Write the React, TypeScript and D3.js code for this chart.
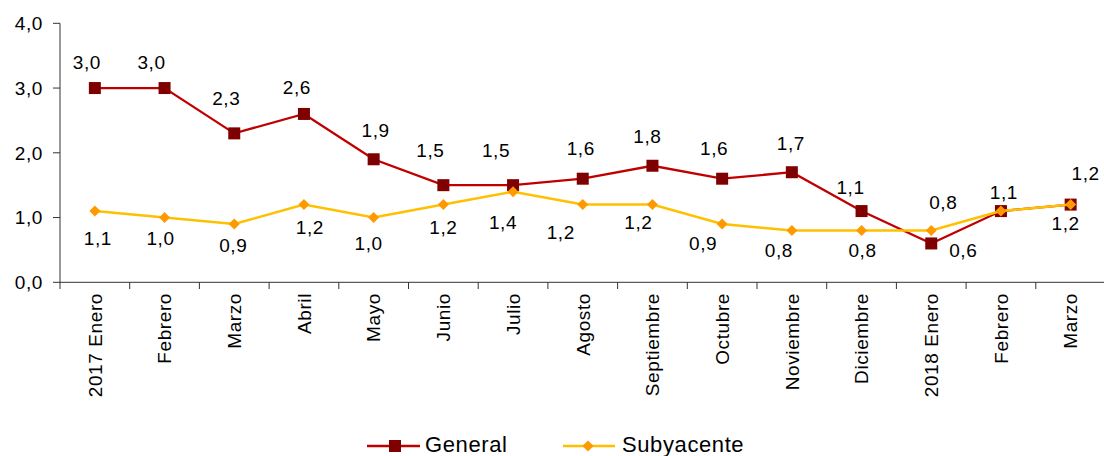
import React from "react";
import * as d3 from "d3";

// Months shown on the category axis
const months = [
  "2017 Enero", "Febrero", "Marzo", "Abril", "Mayo", "Junio", "Julio",
  "Agosto", "Septiembre", "Octubre", "Noviembre", "Diciembre",
  "2018 Enero", "Febrero", "Marzo",
];

// Year-on-year rates (%)
const general = [3.0, 3.0, 2.3, 2.6, 1.9, 1.5, 1.5, 1.6, 1.8, 1.6, 1.7, 1.1, 0.6, 1.1, 1.2];
const subyacente = [1.1, 1.0, 0.9, 1.2, 1.0, 1.2, 1.4, 1.2, 1.2, 0.9, 0.8, 0.8, 0.8, 1.1, 1.2];

const yTicks = [0, 1, 2, 3, 4];

// Label nudges relative to each point (null = label not drawn)
const generalLabelOffset: ([number, number] | null)[] = [
  [-8, -26], [-13, -26], [-8, -35], [-7, -27], [2, -29], [-13, -35], [-17, -35],
  [-2, -31], [-5, -30], [-8, -31], [-1, -29], [-11, -24], [32, 7], [3, -19], [15, -31],
];
const subLabelOffset: ([number, number] | null)[] = [
  [3, 27], [-4, 21], [-1, 21], [6, 23], [-5, 26], [0, 23], [-10, 31],
  [-22, 28], [-14, 18], [-19, 19], [-13, 20], [1, 20], [12, -28], null, [-5, 19],
];

const W = 1104;
const H = 456;
const FONT = "'Liberation Sans', Arial, Helvetica, sans-serif";
const RED_LINE = "#C00000";
const RED_MARK = "#7F0000";
const GOLD_LINE = "#FFC000";
const GOLD_MARK = "#FF9900";
const AXIS = "#333333";

const fmt = (v: number) => v.toFixed(1).replace(".", ",");

export default function App() {
  const x = d3
    .scaleBand<number>()
    .domain(months.map((_, i) => i))
    .range([60, 60 + 15 * 69.7])
    .paddingInner(0)
    .paddingOuter(0);
  const cx = (i: number) => (x(i) as number) + x.bandwidth() / 2;
  const y = d3.scaleLinear().domain([0, 4]).range([282.3, 23.3]);

  const line = d3
    .line<number>()
    .x((_, i) => cx(i))
    .y((d) => y(d));

  const diamond = (px: number, py: number, r: number) =>
    `M${px},${py - r}L${px + r},${py}L${px},${py + r}L${px - r},${py}Z`;

  const labelStyle = { fontFamily: FONT, fontSize: 19, letterSpacing: 0.6, fill: "#000" };
  const legendStyle = { fontFamily: FONT, fontSize: 22, letterSpacing: 0.6, fill: "#000" };

  return (
    <svg
      width={W}
      height={H}
      style={{ position: "absolute", left: 0, top: 0, background: "#fff" }}
    >
      {/* Y axis */}
      <line x1={60} x2={60} y1={y(4)} y2={289} stroke={AXIS} strokeWidth={1} />
      {yTicks.map((t) => (
        <g key={t}>
          <line x1={53} x2={60} y1={y(t)} y2={y(t)} stroke={AXIS} strokeWidth={1} />
          <text x={43} y={y(t)} dy="0.36em" textAnchor="end" style={labelStyle}>
            {fmt(t)}
          </text>
        </g>
      ))}

      {/* X axis */}
      <line x1={60} x2={W} y1={y(0)} y2={y(0)} stroke={AXIS} strokeWidth={1} />
      {months.map((_, i) => (
        <line
          key={"t" + i}
          x1={(x(i) as number) + x.bandwidth()}
          x2={(x(i) as number) + x.bandwidth()}
          y1={y(0)}
          y2={289}
          stroke={AXIS}
          strokeWidth={1}
        />
      ))}
      {months.map((m, i) => (
        <text
          key={"m" + i}
          transform={`translate(${cx(i)},293) rotate(-90)`}
          dy="0.36em"
          textAnchor="end"
          style={labelStyle}
        >
          {m}
        </text>
      ))}

      {/* General */}
      <path d={line(general) || ""} fill="none" stroke={RED_LINE} strokeWidth={2.3} />
      {general.map((v, i) => (
        <rect
          key={"g" + i}
          x={cx(i) - 6}
          y={y(v) - 6}
          width={12}
          height={12}
          fill={RED_MARK}
        />
      ))}

      {/* Subyacente */}
      <path d={line(subyacente) || ""} fill="none" stroke={GOLD_LINE} strokeWidth={2.5} />
      {subyacente.map((v, i) => (
        <path key={"s" + i} d={diamond(cx(i), y(v), 5.5)} fill={GOLD_MARK} />
      ))}

      {/* Value labels */}
      {general.map((v, i) => {
        const o = generalLabelOffset[i];
        if (!o) return null;
        return (
          <text
            key={"gl" + i}
            x={cx(i) + o[0]}
            y={y(v) + o[1]}
            dy="0.36em"
            textAnchor="middle"
            style={labelStyle}
          >
            {fmt(v)}
          </text>
        );
      })}
      {subyacente.map((v, i) => {
        const o = subLabelOffset[i];
        if (!o) return null;
        return (
          <text
            key={"sl" + i}
            x={cx(i) + o[0]}
            y={y(v) + o[1]}
            dy="0.36em"
            textAnchor="middle"
            style={labelStyle}
          >
            {fmt(v)}
          </text>
        );
      })}

      {/* Legend */}
      <g>
        <line x1={367} x2={420} y1={446} y2={446} stroke={RED_LINE} strokeWidth={2.3} />
        <rect x={389} y={440} width={12} height={12} fill={RED_MARK} />
        <text x={425} y={452} style={legendStyle}>
          General
        </text>
        <line x1={563} x2={615} y1={446} y2={446} stroke={GOLD_LINE} strokeWidth={2.5} />
        <path d={diamond(588, 446, 5.5)} fill={GOLD_MARK} />
        <text x={622} y={452} style={legendStyle}>
          Subyacente
        </text>
      </g>
    </svg>
  );
}
